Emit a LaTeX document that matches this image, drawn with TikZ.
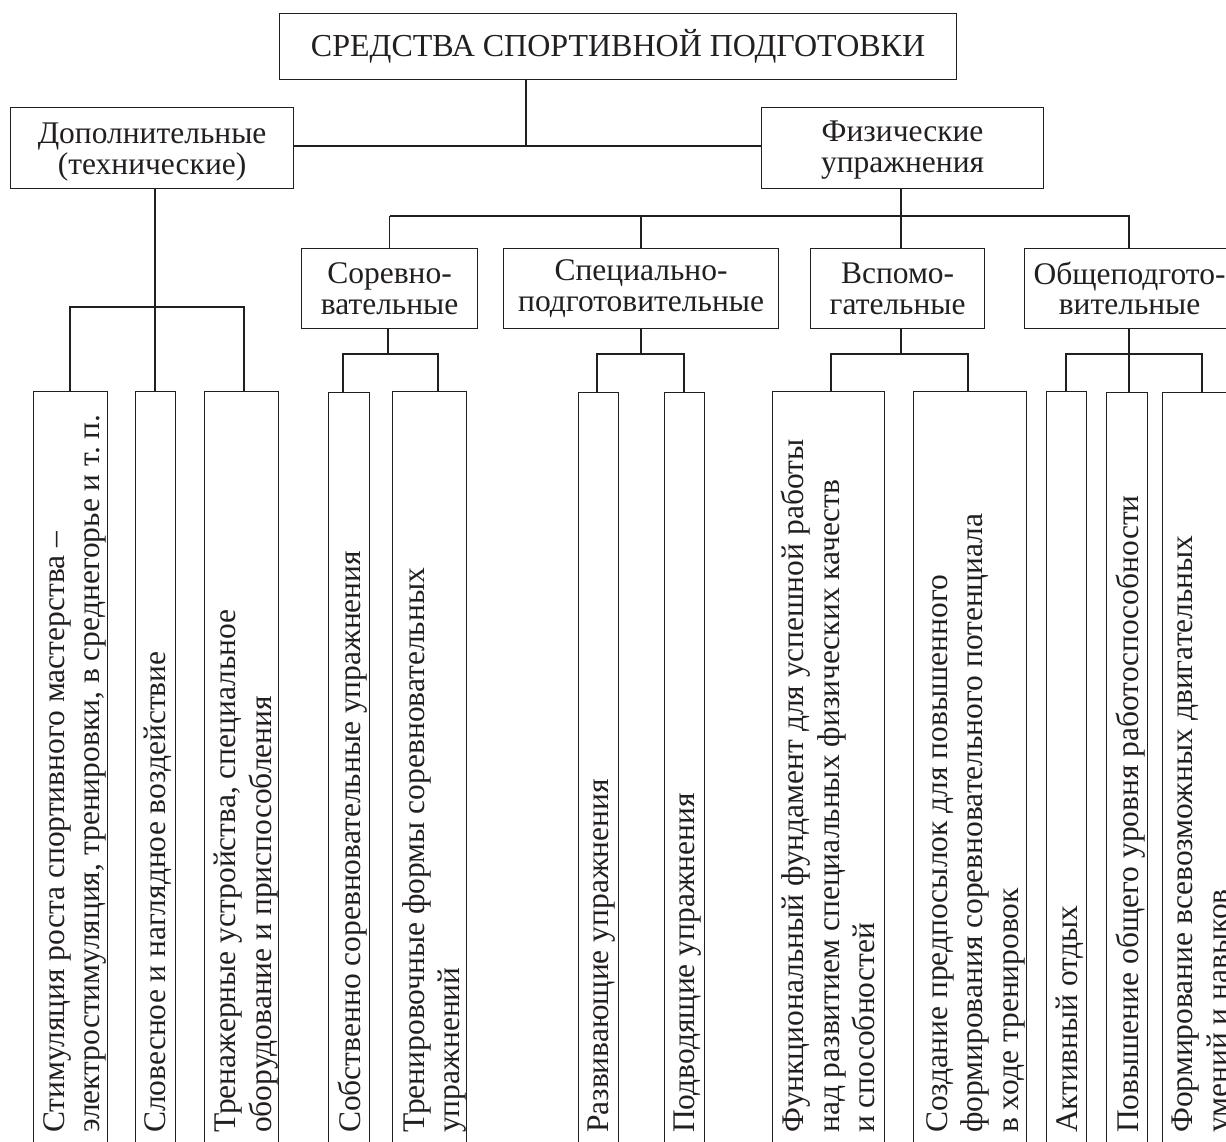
\documentclass[tikz,border=0pt]{standalone}
\usepackage{fontspec}
\setmainfont{Liberation Serif}
\definecolor{ink}{RGB}{35,31,32}
\begin{document}
\begin{tikzpicture}[x=1pt,y=-1pt,
  box/.style={draw=ink, line width=1.2pt, rectangle, inner sep=0pt, anchor=north west},
  hd/.style={box, text=ink, align=center, font=\fontsize{31.5}{30.5}\selectfont},
  hdt/.style={text=ink, inner sep=0pt, align=center, font=\fontsize{31.5}{30.5}\selectfont},
  ttl/.style={box, text=ink, align=center, font=\fontsize{32}{32}\selectfont},
  leafbox/.style={box, minimum height=800},
  lt/.style={text=ink, rotate=90, anchor=north west, inner sep=0pt, align=left, font=\fontsize{31.5}{35.5}\selectfont},
  wire/.style={draw=ink, line width=1.2pt}]
\useasboundingbox (0,0) rectangle (1226,1142);
\clip (0,0) rectangle (1226,1142);
\fill[white] (0,0) rectangle (1226,1142);

% top
\node[ttl, minimum width=677, minimum height=66] (root) at (279,13) {СРЕДСТВА СПОРТИВНОЙ ПОДГОТОВКИ};
% level 1
\node[box, minimum width=283, minimum height=81] (dop) at (10,107) {};
\node[hdt] (dopT) at ([yshift=-4pt]dop.center) {Дополнительные\\(технические)};
\node[box, minimum width=282, minimum height=81] (fiz) at (761,107) {};
\node[hdt] (fizT) at ([yshift=-2pt]fiz.center) {Физические\\упражнения};
% level 2
\node[hd, minimum width=176, minimum height=80] (sor) at (301,248) {Соревно-\\вательные};
\node[hd, minimum width=275, minimum height=80] (spec) at (503,248) {Специально-\\подготовительные};
\node[hd, minimum width=174, minimum height=80] (vsp) at (810,248) {Вспомо-\\гательные};
\node[hd, minimum width=210, minimum height=80] (obs) at (1024,248) {Общеподгото-\\вительные};

% leaves
\node[leafbox, minimum width=74] (l1) at (33,391) {};
\node[leafbox, minimum width=40] (l2) at (135,391) {};
\node[leafbox, minimum width=74] (l3) at (204,391) {};
\node[leafbox, minimum width=41] (l4) at (328,392) {};
\node[leafbox, minimum width=74] (l5) at (392,391) {};
\node[leafbox, minimum width=40] (l6) at (578,392) {};
\node[leafbox, minimum width=40] (l7) at (664,392) {};
\node[leafbox, minimum width=112] (l8) at (772,391) {};
\node[leafbox, minimum width=113] (l9) at (913,391) {};
\node[leafbox, minimum width=40] (l10) at (1046,391) {};
\node[leafbox, minimum width=41] (l11) at (1106,392) {};
\node[leafbox, minimum width=80] (l12) at (1162,392) {};

\node[lt] (t1) at (43,1133) {Стимуляция роста спортивного мастерства –\\электростимуляция, тренировки, в среднегорье и т.~п.};
\node[lt] (t2) at (144,1133) {Словесное и наглядное воздействие};
\node[lt] (t3) at (214,1133) {Тренажерные устройства, специальное\\оборудование и приспособления};
\node[lt] (t4) at (338,1133) {Собственно соревновательные упражнения};
\node[lt] (t5) at (402,1133) {Тренировочные формы соревновательных\\упражнений};
\node[lt] (t6) at (588,1133) {Развивающие упражнения};
\node[lt] (t7) at (674,1133) {Подводящие упражнения};
\node[lt] (t8) at (781,1133) {Функциональный фундамент для успешной работы\\над развитием специальных физических качеств\\и способностей};
\node[lt] (t9) at (926,1133) {Создание предпосылок для повышенного\\формирования соревновательного потенциала\\в ходе тренировок};
\node[lt] (t10) at (1056,1133) {Активный отдых};
\node[lt] (t11) at (1116,1133) {Повышение общего уровня работоспособности};
\node[lt] (t12) at (1172,1133) {Формирование всевозможных двигательных\\умений и навыков};

% junction coordinates
\coordinate (j0) at (526,146);
\coordinate (j1) at (901,216);
\coordinate (jd) at (155,307);
\coordinate (js) at (388,354);
\coordinate (jp) at (641,354);
\coordinate (jv) at (901,354);
\coordinate (jo) at (1129,354);
% bus ends
\coordinate (d1) at (70,307);  \coordinate (d3) at (244,307);
\coordinate (s4) at (343,354); \coordinate (s5) at (438,354);
\coordinate (p6) at (597,354); \coordinate (p7) at (684,354);
\coordinate (v8) at (831,354); \coordinate (v9) at (968,354);
\coordinate (o10) at (1066,354); \coordinate (o12) at (1202,354);

% root connections
\draw[wire] (root.south -| j0) -- (j0);
\draw[wire] (dop.east |- j0) -- (fiz.west |- j0);
% fiz to level 2
\draw[wire] (fiz.south -| j1) -- (j1);
\draw[wire] (sor.north |- j1) -- (obs.north |- j1);
\draw[wire] (sor.north) -- (sor.north |- j1);
\draw[wire] (spec.north -| jp) -- (jp |- j1);
\draw[wire] (vsp.north -| jv) -- (j1);
\draw[wire] (obs.north -| jo) -- (jo |- j1);

% dop to leaves
\draw[wire] (dop.south -| jd) -- (jd);
\draw[wire] (l1.north -| d1) -- (d1) -- (d3) -- (l3.north -| d3);
\draw[wire] (l2.north -| jd) -- (jd);

% sor to leaves
\draw[wire] (sor.south -| js) -- (js);
\draw[wire] (l4.north -| s4) -- (s4) -- (s5) -- (l5.north -| s5);
% spec to leaves
\draw[wire] (spec.south -| jp) -- (jp);
\draw[wire] (l6.north -| p6) -- (p6) -- (p7) -- (l7.north -| p7);
% vsp to leaves
\draw[wire] (vsp.south -| jv) -- (jv);
\draw[wire] (l8.north -| v8) -- (v8) -- (v9) -- (l9.north -| v9);
% obs to leaves
\draw[wire] (obs.south -| jo) -- (jo);
\draw[wire] (l10.north -| o10) -- (o10) -- (o12) -- (l12.north -| o12);
\draw[wire] (l11.north -| jo) -- (jo);
\end{tikzpicture}
\end{document}
